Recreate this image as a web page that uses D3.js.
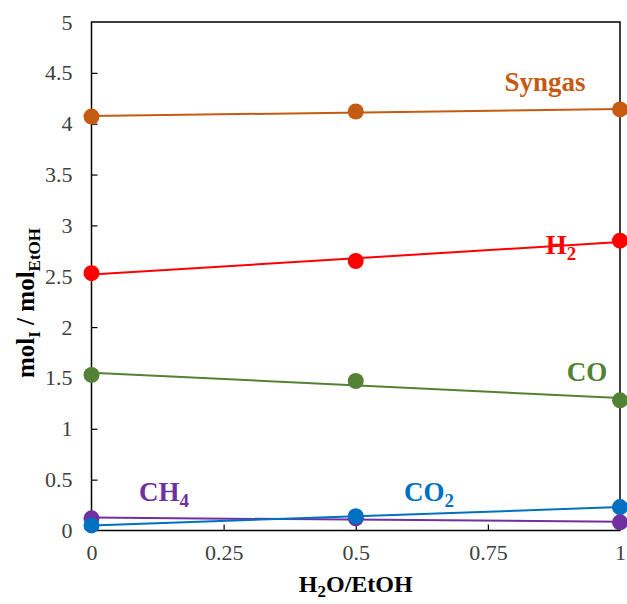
<!DOCTYPE html>
<html><head><meta charset="utf-8">
<script src="https://cdn.jsdelivr.net/npm/d3@7/dist/d3.min.js"></script>
<style>body{margin:0;background:#fff}svg{display:block}</style>
</head><body>
<svg id="c" width="627" height="604"></svg>
<script>
const xValues = [0, 0.5, 1];
const syngas = [4.07, 4.12, 4.14];
const h2 = [2.53, 2.65, 2.85];
const co = [1.53, 1.47, 1.28];
const ch4 = [0.12, 0.12, 0.08];
const co2 = [0.05, 0.14, 0.23];
const xTicks = [0, 0.25, 0.5, 0.75, 1];
const xTickLabels = ["0", "0.25", "0.5", "0.75", "1"];
const yTicks = [0, 0.5, 1, 1.5, 2, 2.5, 3, 3.5, 4, 4.5, 5];
const yTickLabels = ["0", "0.5", "1", "1.5", "2", "2.5", "3", "3.5", "4", "4.5", "5"];

const series = [
  {name: "Syngas", sub: "", values: syngas, color: "#C55A11", lx: 545, ly: 91},
  {name: "H", sub: "2", values: h2, color: "#FF0000", lx: 561, ly: 254},
  {name: "CO", sub: "", values: co, color: "#548235", lx: 587, ly: 381},
  {name: "CH", sub: "4", values: ch4, color: "#7030A0", lx: 164, ly: 501},
  {name: "CO", sub: "2", values: co2, color: "#0070C0", lx: 429, ly: 501}
];

const svg = d3.select("#c");
const L = 91.5, R = 620, T = 22, B = 530.5;
const x = d3.scaleLinear().domain([0, 1]).range([L, R]);
const y = d3.scaleLinear().domain([0, 5]).range([B, T]);
const font = "'Liberation Serif','Times New Roman',serif";

// frame
svg.append("rect").attr("x", L).attr("y", T).attr("width", R - L).attr("height", B - T)
  .attr("fill", "none").attr("stroke", "#000").attr("stroke-width", 1.5);

// axes
const yAxis = svg.append("g").attr("transform", `translate(${L},0)`)
  .call(d3.axisLeft(y).tickValues(yTicks).tickFormat((d, i) => yTickLabels[i]).tickSizeInner(-6).tickSizeOuter(0).tickPadding(19));
const xAxis = svg.append("g").attr("transform", `translate(0,${B})`)
  .call(d3.axisBottom(x).tickValues(xTicks).tickFormat((d, i) => xTickLabels[i]).tickSizeInner(-6).tickSizeOuter(0).tickPadding(14));
[yAxis, xAxis].forEach(a => {
  a.select(".domain").remove();
  a.selectAll(".tick line").attr("stroke", "#000").attr("stroke-width", 1.2);
  a.selectAll("text").attr("font-family", font).attr("font-size", 22).attr("fill", "#404040");
});
yAxis.selectAll(".tick").filter(d => d === 0 || d === 5).select("line").remove();
xAxis.selectAll(".tick").filter(d => d === 0 || d === 1).select("line").remove();

// trendlines (least squares) and markers
function fit(xs, ys) {
  const mx = d3.mean(xs), my = d3.mean(ys);
  const b = d3.sum(xs.map((v, i) => (v - mx) * (ys[i] - my))) / d3.sum(xs.map(v => (v - mx) ** 2));
  return {a: my - b * mx, b};
}
series.forEach(s => {
  const f = fit(xValues, s.values);
  svg.append("line")
    .attr("x1", x(0)).attr("y1", y(f.a))
    .attr("x2", x(1)).attr("y2", y(f.a + f.b))
    .attr("stroke", s.color).attr("stroke-width", 2);
});
series.forEach(s => {
  svg.append("g").selectAll("circle").data(s.values).join("circle")
    .attr("cx", (d, i) => x(xValues[i])).attr("cy", d => y(d)).attr("r", 8)
    .attr("fill", s.color);
});

// series labels
series.forEach(s => {
  const t = svg.append("text").attr("x", s.lx).attr("y", s.ly)
    .attr("text-anchor", "middle").attr("font-family", font).attr("font-weight", "bold")
    .attr("font-size", 27).attr("fill", s.color);
  t.append("tspan").text(s.name);
  if (s.sub) t.append("tspan").attr("font-size", 19).attr("dy", 6).text(s.sub);
});

// x title
const xt = svg.append("text").attr("x", (L + R) / 2).attr("y", 592).attr("text-anchor", "middle")
  .attr("font-family", font).attr("font-weight", "bold").attr("font-size", 24).attr("fill", "#000");
xt.append("tspan").text("H");
xt.append("tspan").attr("font-size", 17).attr("dy", 5).text("2");
xt.append("tspan").attr("dy", -5).text("O/EtOH");

// y title
const yt = svg.append("text").attr("transform", `translate(34,303) rotate(-90)`)
  .attr("text-anchor", "middle").attr("font-family", font).attr("font-weight", "bold")
  .attr("font-size", 25).attr("fill", "#000");
yt.append("tspan").text("mol");
yt.append("tspan").attr("font-size", 17).attr("dy", 6).text("I");
yt.append("tspan").attr("dy", -6).text(" / mol");
yt.append("tspan").attr("font-size", 17).attr("dy", 6).text("EtOH");
</script>
</body></html>
